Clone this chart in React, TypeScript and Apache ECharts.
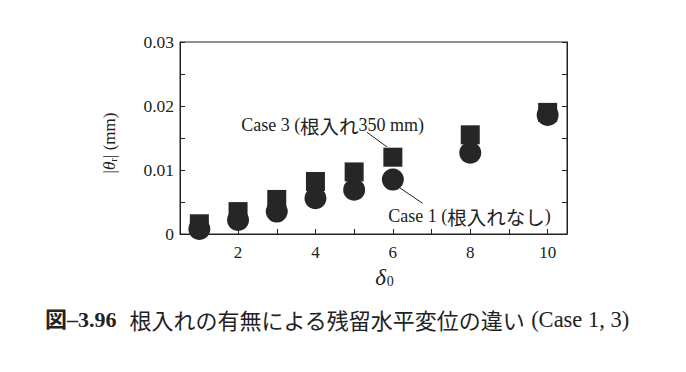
import React, { useEffect, useRef } from "react";
import * as echarts from "echarts";

const delta0 = [1, 2, 3, 4, 5, 6, 8, 10];
const case1 = [0.0008, 0.0022, 0.0035, 0.0056, 0.0069, 0.0085, 0.0127, 0.0186];
const case3 = [0.0016, 0.0035, 0.0054, 0.0082, 0.0097, 0.012, 0.0155, 0.019];
const xTicks = [1, 2, 3, 4, 5, 6, 7, 8, 9, 10];
const xLabels = [2, 4, 6, 8, 10];
const yTicks = [0, 0.005, 0.01, 0.015, 0.02, 0.025, 0.03];
const yLabels = [0, 0.01, 0.02, 0.03];
const case3Parts = ["Case 3 (", "根入れ", "350 mm)"];
const case1Parts = ["Case 1 (", "根入れなし", ")"];
const captionHead = "図–3.96";
const captionJa = "根入れの有無による残留水平変位の違い";
const captionEn = "(Case 1, 3)";

const SERIF = "'Liberation Serif', 'Noto Sans CJK JP', serif";
const CJK = "'Noto Sans CJK JP', sans-serif";

export default function App() {
  const ref = useRef<HTMLDivElement>(null);
  useEffect(() => {
    document.body.style.margin = "0";
    const chart = echarts.init(ref.current!, null, { renderer: "svg" });
    const ink = "#262626";
    chart.setOption({
      animation: false,
      backgroundColor: "#fff",
      grid: {
        left: 180,
        right: 119,
        top: 42,
        bottom: 138,
        show: true,
        borderColor: "#222",
        borderWidth: 1,
      },
      xAxis: {
        type: "value",
        min: 0.5,
        max: 10.5,
        splitLine: { show: false },
        axisLine: { lineStyle: { color: "#222" } },
        axisTick: { inside: true, length: 5, customValues: xTicks, lineStyle: { color: "#222" } },
        axisLabel: {
          customValues: xLabels,
          fontFamily: SERIF,
          fontSize: 17,
          color: "#222",
          margin: 10,
        },
        name: "{d|δ}{s|0}",
        nameLocation: "middle",
        nameGap: 26,
        nameTextStyle: {
          padding: [0, 0, 0, 22],
          rich: {
            d: { fontFamily: SERIF, fontStyle: "italic", fontSize: 23, color: "#222" },
            s: { fontFamily: SERIF, fontSize: 14, color: "#222", verticalAlign: "bottom", padding: [8, 0, 0, 1] },
          },
        },
      },
      yAxis: [
        {
          type: "value",
          min: 0,
          max: 0.03,
          splitLine: { show: false },
          axisLine: { show: true, lineStyle: { color: "#222" } },
          axisTick: { show: true, inside: true, length: 5, customValues: yTicks, lineStyle: { color: "#222" } },
          axisLabel: {
            customValues: yLabels,
            fontFamily: SERIF,
            fontSize: 17.5,
            color: "#222",
            margin: 6,
            formatter: (v: number) => (v === 0 ? "0" : v.toFixed(2)),
          },
          name: "|{t|θ}{s|r}| (mm)",
          nameLocation: "middle",
          nameGap: 62,
          nameRotate: 90,
          nameTextStyle: {
            fontFamily: SERIF,
            fontSize: 17,
            color: "#222",
            padding: [0, 10, 0, 0],
            rich: {
              t: { fontFamily: SERIF, fontStyle: "italic", fontSize: 17, color: "#222" },
              s: { fontFamily: SERIF, fontSize: 11, color: "#222", padding: [6, 0, 0, 0] },
            },
          },
        },
        {
          type: "value",
          min: 0,
          max: 0.03,
          position: "right",
          splitLine: { show: false },
          axisLine: { show: true, lineStyle: { color: "#222" } },
          axisTick: { show: true, inside: true, length: 5, customValues: yTicks, lineStyle: { color: "#222" } },
          axisLabel: { show: false },
        },
      ],
      series: [
        {
          name: "Case 3",
          type: "scatter",
          symbol: "rect",
          symbolSize: 19,
          itemStyle: { color: ink, opacity: 1 },
          data: delta0.map((x, i) => [x, case3[i]]),
          z: 2,
        },
        {
          name: "Case 1",
          type: "scatter",
          symbol: "circle",
          symbolSize: 22,
          itemStyle: { color: ink, opacity: 1 },
          data: delta0.map((x, i) => [x, case1[i]]),
          z: 3,
        },
      ],
    });

    const p = (x: number, y: number) => chart.convertToPixel({ gridIndex: 0 }, [x, y]) as number[];
    const l3a = p(5.33, 0.0159), l3b = p(5.85, 0.0136);
    const l1a = p(6.18, 0.0072), l1b = p(6.77, 0.0048);
    const t3 = p(2.08, 0.0170), t1 = p(5.88, 0.0028);
    const richAnn = {
      l: { fontFamily: SERIF, fontSize: 18, fill: "#222" },
      j: { fontFamily: CJK, fontSize: 19.5, fill: "#222" },
    };
    chart.setOption({
      graphic: [
        { type: "line", shape: { x1: l3a[0], y1: l3a[1], x2: l3b[0], y2: l3b[1] }, style: { stroke: "#222", lineWidth: 1 }, z: 10 },
        { type: "line", shape: { x1: l1a[0], y1: l1a[1], x2: l1b[0], y2: l1b[1] }, style: { stroke: "#222", lineWidth: 1 }, z: 10 },
        {
          type: "text", x: t3[0], y: t3[1],
          style: {
            text: `{l|${case3Parts[0]}}{j|${case3Parts[1]}}{l|${case3Parts[2]}}`,
            verticalAlign: "middle", align: "left", rich: richAnn,
          },
          z: 10,
        },
        {
          type: "text", x: t1[0], y: t1[1],
          style: {
            text: `{l|${case1Parts[0]}}{j|${case1Parts[1]}}{l|${case1Parts[2]}}`,
            verticalAlign: "middle", align: "left", rich: richAnn,
          },
          z: 10,
        },
        {
          type: "text", x: 45, y: 319,
          style: {
            text: `{b|${captionHead}}{g| }{j|${captionJa}}{n| ${captionEn}}`,
            verticalAlign: "middle",
            rich: {
              b: { fontFamily: SERIF, fontWeight: "bold", fontSize: 22, fill: "#222" },
              g: { fontFamily: SERIF, fontSize: 22, width: 13 },
              j: { fontFamily: CJK, fontSize: 22, fill: "#222" },
              n: { fontFamily: SERIF, fontSize: 22.5, fill: "#222" },
            },
          },
        },
      ],
    });
    return () => chart.dispose();
  }, []);
  return <div ref={ref} style={{ width: 686, height: 372 }} />;
}
